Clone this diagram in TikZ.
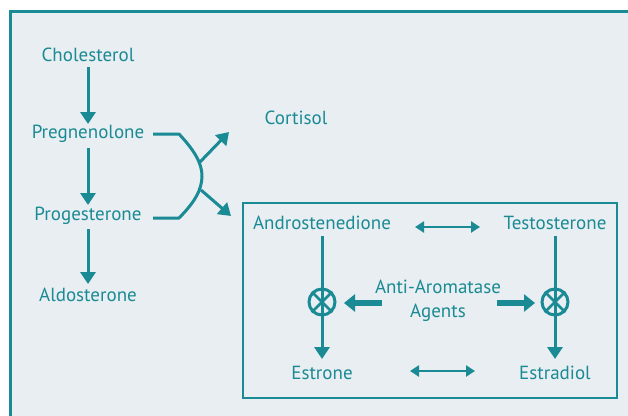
\documentclass[tikz,border=0pt]{standalone}
\usepackage{fontspec}
\setmainfont{PT Sans}
\usetikzlibrary{arrows.meta}
\definecolor{teal1}{HTML}{1A8A94}
\definecolor{bgc}{HTML}{E8EEF1}
\tikzset{
  lbl/.style={text=teal1, font=\fontsize{19}{22}\selectfont, inner sep=1pt},
  varrow/.style={draw=teal1, line width=3pt, -{Triangle[length=12pt,width=15pt]}},
  darrow/.style={draw=teal1, line width=2.3pt, {Triangle[length=9pt,width=11pt]}-{Triangle[length=9pt,width=11pt]}},
  tarrow/.style={draw=teal1, line width=5.5pt, -{Triangle[length=11pt,width=17pt]}},
  inhib/.style={circle, draw=teal1, line width=3pt, minimum size=26pt, inner sep=0pt},
}
\begin{document}
\begin{tikzpicture}[x=1pt,y=-1pt]
\useasboundingbox (0,0) rectangle (628,415);
\fill[white] (0,0) rectangle (628,415);
\begin{scope}
\clip (0,0) rectangle (628,415);
\draw[draw=teal1, fill=bgc, line width=3pt] (10,11) rectangle (650,440);
\end{scope}

% left column
\node[lbl] (chol) at (88,55) {Cholesterol};
\node[lbl] (preg) at (88,134) {Pregnenolone};
\node[lbl] (prog) at (88,216) {Progesterone};
\node[lbl] (aldo) at (88,295) {Aldosterone};
\node[lbl] (cort) at (296,118) {Cortisol};

\coordinate (c1) at (88,67);  \coordinate (c2) at (88,124);
\coordinate (c3) at (88,148); \coordinate (c4) at (88,205);
\coordinate (c5) at (88,229); \coordinate (c6) at (88,284);
\draw[varrow] (c1) -- (c2);
\draw[varrow] (c3) -- (c4);
\draw[varrow] (c5) -- (c6);

% branching curve
\coordinate (pa) at (153,134);
\coordinate (pb) at (153,218);
\coordinate (up) at (200,162);
\coordinate (dn) at (201,190);
\coordinate (cortTip) at (229,132);
\coordinate (boxTip) at (231,216);
\draw[teal1, line width=3pt, line join=round]
  (pa) -- (179,134) .. controls (194,150) and (202,163) .. (202,176)
  .. controls (202,190) and (194,203) .. (179,218) -- (pb);
\draw[varrow] (up) -- (cortTip);
\draw[varrow] (dn) -- (boxTip);

% inner box
\draw[teal1, line width=2.8pt] (243,203) rectangle (617,398);
\node[lbl] (andr) at (322,223) {Androstenedione};
\node[lbl] (test) at (555,223) {Testosterone};
\node[lbl] (estr) at (322,373) {Estrone};
\node[lbl] (estd) at (555,373) {Estradiol};
\node[lbl, align=center, font=\fontsize{19}{24}\selectfont] (anti) at (438,301) {Anti-Aromatase\\Agents};

\coordinate (d1) at (415,227); \coordinate (d2) at (480,227);
\coordinate (d3) at (410,371); \coordinate (d4) at (475,371);
\draw[darrow] (d1) -- (d2);
\draw[darrow] (d3) -- (d4);

\node[inhib] (x1) at (322,302) {};
\node[inhib] (x2) at (555,302) {};
\foreach \n in {x1,x2}{
  \draw[teal1, line width=2.6pt] (\n.north east) -- (\n.south west);
  \draw[teal1, line width=2.6pt] (\n.north west) -- (\n.south east);
}
\coordinate (l1) at (322,236); \coordinate (l2) at (322,359);
\coordinate (r1) at (555,236); \coordinate (r2) at (555,359);
\draw[varrow] (l1) -- (l2);
\draw[varrow] (r1) -- (r2);

\coordinate (t1) at (382,303); \coordinate (t2) at (344,303);
\coordinate (t3) at (497,303); \coordinate (t4) at (535,303);
\draw[tarrow] (t1) -- (t2);
\draw[tarrow] (t3) -- (t4);
\end{tikzpicture}
\end{document}
